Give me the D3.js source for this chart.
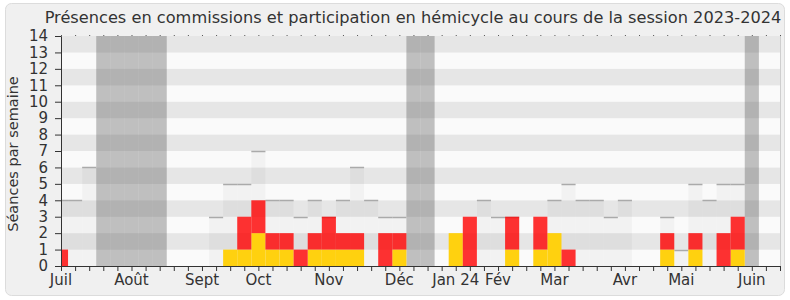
<!DOCTYPE html>
<html>
<head>
<meta charset="utf-8">
<script src="https://cdn.jsdelivr.net/npm/d3@7"></script>
<style>
  body { margin: 0; background: #fff; }
  text { font-family: "DejaVu Sans", sans-serif; fill: #333; }
</style>
</head>
<body>
<script>
// one value per week of the session, week 0 = first week of July 2023
var commission = [0,0,0,0,0,0,0,0,0,0,0,0,1,1,2,1,1,0,1,1,1,1,0,0,1,0,0,0,2,0,0,0,1,0,1,2,0,0,0,0,0,0,0,1,0,1,0,0,1,0,0,0];
var hemicycle  = [1,0,0,0,0,0,0,0,0,0,0,0,0,2,2,1,1,1,1,2,1,1,0,2,1,0,0,0,0,3,0,0,2,0,2,0,1,0,0,0,0,0,0,1,0,1,0,2,2,0,0,0];
var median     = [4,4,6,0,0,0,0,0,0,0,0,3,5,5,7,4,4,3,4,3,4,6,4,3,3,0,0,0,0,0,4,3,3,0,0,4,5,4,4,3,4,0,0,3,1,5,4,5,5,0,0,0];
// weeks of parliamentary holidays
var vacances = [3,4,5,6,7,25,26,49];
var monthWeeks = [0,5,10,14,19,24,28,31,35,40,44,49];
var monthLabels = ['Juil','Août','Sept','Oct','Nov','Déc','Jan 24','Fév','Mar','Avr','Mai','Juin'];

var width = 790;
var height = 300;
var pLeft = 61, pRight = 780, pTop = 36, pBottom = 266;

var x = d3.scaleLinear().domain([0, median.length - 1]).range([pLeft, pRight]);
var y = d3.scaleLinear().domain([0, 14]).range([pBottom, pTop]);
var bw = x(1) - x(0);

var svg = d3.select('body')
            .append('svg')
            .attr('width', width)
            .attr('height', height);

// frame
svg.append('rect')
   .attr('x', 5.5).attr('y', 3.5)
   .attr('width', 779).attr('height', 292)
   .attr('rx', 6)
   .attr('fill', '#f0f0f0')
   .attr('stroke', '#dcdcdc');

svg.append('clipPath')
   .attr('id', 'plot')
   .append('rect')
     .attr('x', pLeft).attr('y', pTop)
     .attr('width', pRight - pLeft).attr('height', pBottom - pTop);

var plot = svg.append('g').attr('clip-path', 'url(#plot)');

// horizontal stripes, one per unit
plot.selectAll('.stripe')
    .data(d3.range(14))
    .enter()
    .append('rect')
      .attr('x', pLeft)
      .attr('width', pRight - pLeft)
      .attr('y', function (d) { return y(d + 1); })
      .attr('height', function (d) { return y(d) - y(d + 1); })
      .attr('fill', function (d) { return d % 2 ? '#e6e6e6' : '#fafafa'; });

// holidays
plot.selectAll('.vac')
    .data(vacances)
    .enter()
    .append('rect')
      .attr('x', function (d) { return x(d - 0.5); })
      .attr('width', bw)
      .attr('y', pTop)
      .attr('height', pBottom - pTop)
      .attr('fill', 'rgba(80,80,80,0.35)');

// median of all deputies
plot.selectAll('.med')
    .data(median)
    .enter()
    .append('rect')
      .attr('x', function (d, i) { return x(i - 0.5); })
      .attr('width', bw)
      .attr('y', function (d) { return y(d); })
      .attr('height', function (d) { return pBottom - y(d); })
      .attr('fill', 'rgba(0,0,0,0.03)');

plot.selectAll('.medline')
    .data(median)
    .enter()
    .append('line')
      .attr('x1', function (d, i) { return x(i - 0.5); })
      .attr('x2', function (d, i) { return x(i + 0.5); })
      .attr('y1', function (d) { return Math.round(y(d)) + 0.5; })
      .attr('y2', function (d) { return Math.round(y(d)) + 0.5; })
      .attr('stroke', function (d) { return d > 0 ? '#aaa' : 'none'; })
      .attr('stroke-width', 1.5);

// stacked bars: commission (yellow) then hemicycle (red)
plot.selectAll('.com')
    .data(commission)
    .enter()
    .append('rect')
      .attr('x', function (d, i) { return x(i - 0.5); })
      .attr('width', bw)
      .attr('y', function (d) { return y(d); })
      .attr('height', function (d) { return pBottom - y(d); })
      .attr('fill', '#ffd10f');

plot.selectAll('.hem')
    .data(hemicycle)
    .enter()
    .append('rect')
      .attr('x', function (d, i) { return x(i - 0.5); })
      .attr('width', bw)
      .attr('y', function (d, i) { return y(d + commission[i]); })
      .attr('height', function (d) { return y(0) - y(d); })
      .attr('fill', 'rgba(255,0,0,0.8)');

// right border of the plot
svg.append('line')
   .attr('x1', pRight + 0.5).attr('x2', pRight + 0.5)
   .attr('y1', pTop).attr('y2', pBottom)
   .attr('stroke', '#cfcfcf');

// axes
var yAxis = d3.axisLeft(y).ticks(14).tickSize(6).tickPadding(7);
var xAxis = d3.axisBottom(x)
              .tickValues(d3.range(median.length))
              .tickSize(5)
              .tickFormat('');

var gy = svg.append('g')
            .attr('transform', 'translate(' + pLeft + ',0)')
            .call(yAxis);
gy.selectAll('text').style('font-size', '15px').attr('font-family', null);

var gx = svg.append('g')
            .attr('transform', 'translate(0,' + pBottom + ')')
            .call(xAxis);

svg.selectAll('.domain, .tick line').attr('stroke', '#333');

// small marks along the top
svg.append('g')
   .attr('transform', 'translate(0,' + pTop + ')')
   .call(d3.axisTop(x).tickValues(d3.range(median.length)).tickSize(1).tickFormat(''))
   .call(function (g) { g.select('.domain').remove(); })
   .selectAll('line').attr('stroke', '#555');

// month labels
svg.selectAll('.month')
   .data(monthWeeks)
   .enter()
   .append('text')
     .attr('x', function (d) { return x(d); })
     .attr('y', 285)
     .attr('text-anchor', 'middle')
     .style('font-size', '15px')
     .text(function (d, i) { return monthLabels[i]; });

// title
svg.append('text')
   .attr('x', 413)
   .attr('y', 23)
   .attr('text-anchor', 'middle')
   .style('font-size', '16.2px')
   .text('Présences en commissions et participation en hémicycle au cours de la session 2023-2024');

// y label
svg.append('text')
   .attr('text-anchor', 'middle')
   .attr('transform', 'translate(18,154)rotate(-90)')
   .style('font-size', '14.5px')
   .text('Séances par semaine');
</script>
</body>
</html>
